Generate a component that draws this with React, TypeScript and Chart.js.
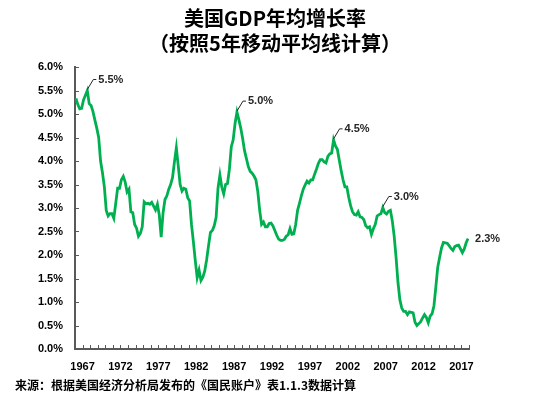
import React, { useEffect, useRef } from 'react';
import { Chart, registerables } from 'chart.js';

Chart.register(...registerables);

// ---- text ----
const TITLE_LINES = ['美国GDP年均增长率', '（按照5年移动平均线计算）'];
const SOURCE_NOTE = '来源：根据美国经济分析局发布的《国民账户》表1.1.3数据计算';

// ---- axis ----
const FIRST_YEAR = 1966;
const LAST_YEAR = 2018;
const LABEL_YEARS = [1967, 1972, 1977, 1982, 1987, 1992, 1997, 2002, 2007, 2012, 2017];
const Y_MIN = 0;
const Y_MAX = 6;
const Y_STEP = 0.5;

// ---- quarterly 5-year moving average growth (%), starting 1966 Q1 ----
const GROWTH_1966_1975 = [
  5.33, 5.2, 5.11, 5.12, 5.3, 5.4, 5.5, 5.22, 5.18, 5.05,
  4.87, 4.7, 4.5, 4.0, 3.75, 3.45, 2.95, 2.83, 2.88, 2.88,
  2.78, 3.1, 3.42, 3.42, 3.6, 3.67, 3.55, 3.34, 3.4, 2.92,
  2.9, 2.65, 2.57, 2.4, 2.46, 2.6, 3.13, 3.09, 3.1, 3.08,
];
const GROWTH_1976_1985 = [
  3.12, 3.04, 2.96, 3.08, 2.85, 2.38, 2.9, 3.18, 3.26, 3.4,
  3.5, 3.65, 3.98, 4.28, 3.9, 3.5, 3.36, 3.42, 3.4, 3.22,
  3.15, 2.65, 2.28, 1.88, 1.52, 1.68, 1.46, 1.53, 1.66, 1.9,
  2.2, 2.48, 2.52, 2.62, 2.8, 3.42, 3.7, 3.44, 3.3, 3.5,
];
const GROWTH_1986_1995 = [
  3.52, 3.82, 4.3, 4.45, 4.8, 5.04, 4.88, 4.7, 4.48, 4.22,
  4.05, 3.88, 3.78, 3.74, 3.68, 3.6, 3.35, 2.95, 2.65, 2.7,
  2.6, 2.6, 2.67, 2.68, 2.62, 2.52, 2.42, 2.34, 2.31, 2.31,
  2.33, 2.4, 2.43, 2.56, 2.44, 2.45, 2.65, 2.95, 3.1, 3.26,
];
const GROWTH_1996_2005 = [
  3.4, 3.49, 3.57, 3.53, 3.6, 3.6, 3.72, 3.83, 3.95, 4.03,
  4.03, 3.98, 3.96, 4.1, 4.15, 4.17, 4.45, 4.32, 4.25, 4.02,
  3.8, 3.6, 3.45, 3.45, 3.23, 3.05, 2.92, 2.86, 2.85, 2.92,
  2.81, 2.8, 2.75, 2.62, 2.58, 2.6, 2.44, 2.56, 2.65, 2.83,
];
const GROWTH_2006_2017 = [
  2.86, 2.88, 3.01, 2.9, 2.87, 2.93, 2.95, 2.73, 2.4, 1.95,
  1.42, 1.05, 0.87, 0.8, 0.8, 0.73, 0.79, 0.78, 0.77, 0.57,
  0.5, 0.54, 0.58, 0.66, 0.73, 0.67, 0.56, 0.7, 0.75, 0.92,
  1.32, 1.74, 1.95, 2.15, 2.27, 2.26, 2.25, 2.2, 2.14, 2.1,
  2.18, 2.2, 2.21, 2.13, 2.05, 2.13, 2.26, 2.35,
];

// ---- annotated points (quarter index from 1966 Q1) ----
const CALLOUT_QUARTERS = [6, 85, 136, 162];
const CALLOUT_TEXTS = ['5.5%', '5.0%', '4.5%', '3.0%'];
const END_LABEL_TEXT = '2.3%';

const GROWTH = [
  ...GROWTH_1966_1975,
  ...GROWTH_1976_1985,
  ...GROWTH_1986_1995,
  ...GROWTH_1996_2005,
  ...GROWTH_2006_2017,
];

const quarterToYear = (i: number) => FIRST_YEAR + (i + 0.5) / 4;

const LINE_COLOR = '#00B050';
const AXIS_COLOR = '#595959';
const TEXT_COLOR = '#000000';
const NUM_FONT = '"Liberation Sans", Arial, sans-serif';
const CJK_FONT = '"Noto Sans CJK SC", "Noto Sans", sans-serif';

const decorPlugin = {
  id: 'decor',
  afterDraw(chart: any) {
    const { ctx, chartArea, scales } = chart;
    const x = scales.x;
    const y = scales.y;
    ctx.save();

    // inside tick marks
    ctx.strokeStyle = AXIS_COLOR;
    ctx.lineWidth = 1;
    for (let yr = FIRST_YEAR + 1; yr <= LAST_YEAR; yr++) {
      const px = Math.round(x.getPixelForValue(yr)) + 0.5;
      ctx.beginPath();
      ctx.moveTo(px, chartArea.bottom);
      ctx.lineTo(px, chartArea.bottom - 4);
      ctx.stroke();
    }
    for (let v = Y_MIN; v <= Y_MAX + 1e-9; v += Y_STEP) {
      const py = Math.round(y.getPixelForValue(v)) + 0.5;
      ctx.beginPath();
      ctx.moveTo(chartArea.left, py);
      ctx.lineTo(chartArea.left + 4, py);
      ctx.stroke();
    }

    // callouts
    ctx.fillStyle = '#262626';
    ctx.font = `bold 11px ${NUM_FONT}`;
    ctx.textBaseline = 'middle';
    ctx.textAlign = 'left';
    CALLOUT_QUARTERS.forEach((qi, k) => {
      const px = x.getPixelForValue(quarterToYear(qi));
      const py = y.getPixelForValue(GROWTH[qi]);
      ctx.strokeStyle = '#262626';
      ctx.lineWidth = 1;
      ctx.beginPath();
      ctx.moveTo(px, py - 1);
      ctx.lineTo(px + 6, py - 11);
      ctx.lineTo(px + 9, py - 11);
      ctx.stroke();
      ctx.fillText(CALLOUT_TEXTS[k], px + 11, py - 11);
    });
    const lastI = GROWTH.length - 1;
    const lx = x.getPixelForValue(quarterToYear(lastI));
    const ly = y.getPixelForValue(GROWTH[lastI]);
    ctx.fillText(END_LABEL_TEXT, lx + 7, ly);

    // title
    ctx.fillStyle = TEXT_COLOR;
    ctx.textAlign = 'center';
    ctx.font = `bold 20px ${CJK_FONT}`;
    ctx.fillText(TITLE_LINES[0], 275, 18);
    ctx.fillText(TITLE_LINES[1], 275, 43);

    // source
    ctx.textAlign = 'left';
    ctx.font = `bold 12px ${CJK_FONT}`;
    ctx.fillText(SOURCE_NOTE, 15, 385);
    ctx.restore();
  },
};

export default function App() {
  const canvasRef = useRef<HTMLCanvasElement | null>(null);

  useEffect(() => {
    if (!canvasRef.current) return;
    const chart = new Chart(canvasRef.current, {
      type: 'line',
      data: {
        datasets: [
          {
            data: GROWTH.map((v, i) => ({ x: quarterToYear(i), y: v })),
            borderColor: LINE_COLOR,
            borderWidth: 2.8,
            pointRadius: 0,
            tension: 0,
            fill: false,
          },
        ],
      },
      options: {
        responsive: false,
        animation: false,
        layout: { padding: { top: 67, left: 0, right: 81, bottom: 0 } },
        plugins: {
          legend: { display: false },
          title: { display: false },
          tooltip: { enabled: false },
        },
        scales: {
          x: {
            type: 'linear',
            min: FIRST_YEAR,
            max: LAST_YEAR,
            afterFit: (s: any) => {
              s.height = 48;
            },
            afterBuildTicks: (s: any) => {
              const t = [];
              for (let yr = FIRST_YEAR; yr <= LAST_YEAR; yr++) t.push({ value: yr });
              s.ticks = t;
            },
            ticks: {
              autoSkip: false,
              maxRotation: 0,
              minRotation: 0,
              padding: 11,
              color: TEXT_COLOR,
              font: { family: NUM_FONT, size: 11, weight: 'bold' },
              callback: (v: any) => (LABEL_YEARS.includes(Number(v)) ? String(v) : ''),
            },
            grid: { display: true, drawOnChartArea: false, drawTicks: false, color: 'rgba(0,0,0,0)' },
            border: { display: true, color: AXIS_COLOR, width: 2 },
          },
          y: {
            min: Y_MIN,
            max: Y_MAX,
            afterFit: (s: any) => {
              s.width = 75;
            },
            ticks: {
              stepSize: Y_STEP,
              padding: 12,
              color: TEXT_COLOR,
              font: { family: NUM_FONT, size: 11, weight: 'bold' },
              callback: (v: any) => Number(v).toFixed(1) + '%',
            },
            grid: { display: true, drawOnChartArea: false, drawTicks: false, color: 'rgba(0,0,0,0)' },
            border: { display: true, color: AXIS_COLOR, width: 2 },
          },
        },
      },
      plugins: [decorPlugin],
    } as any);
    return () => chart.destroy();
  }, []);

  return (
    <div style={{ position: 'fixed', left: 0, top: 0, width: 550, height: 397, background: '#fff' }}>
      <canvas ref={canvasRef} width={550} height={397} style={{ width: 550, height: 397 }} />
    </div>
  );
}
